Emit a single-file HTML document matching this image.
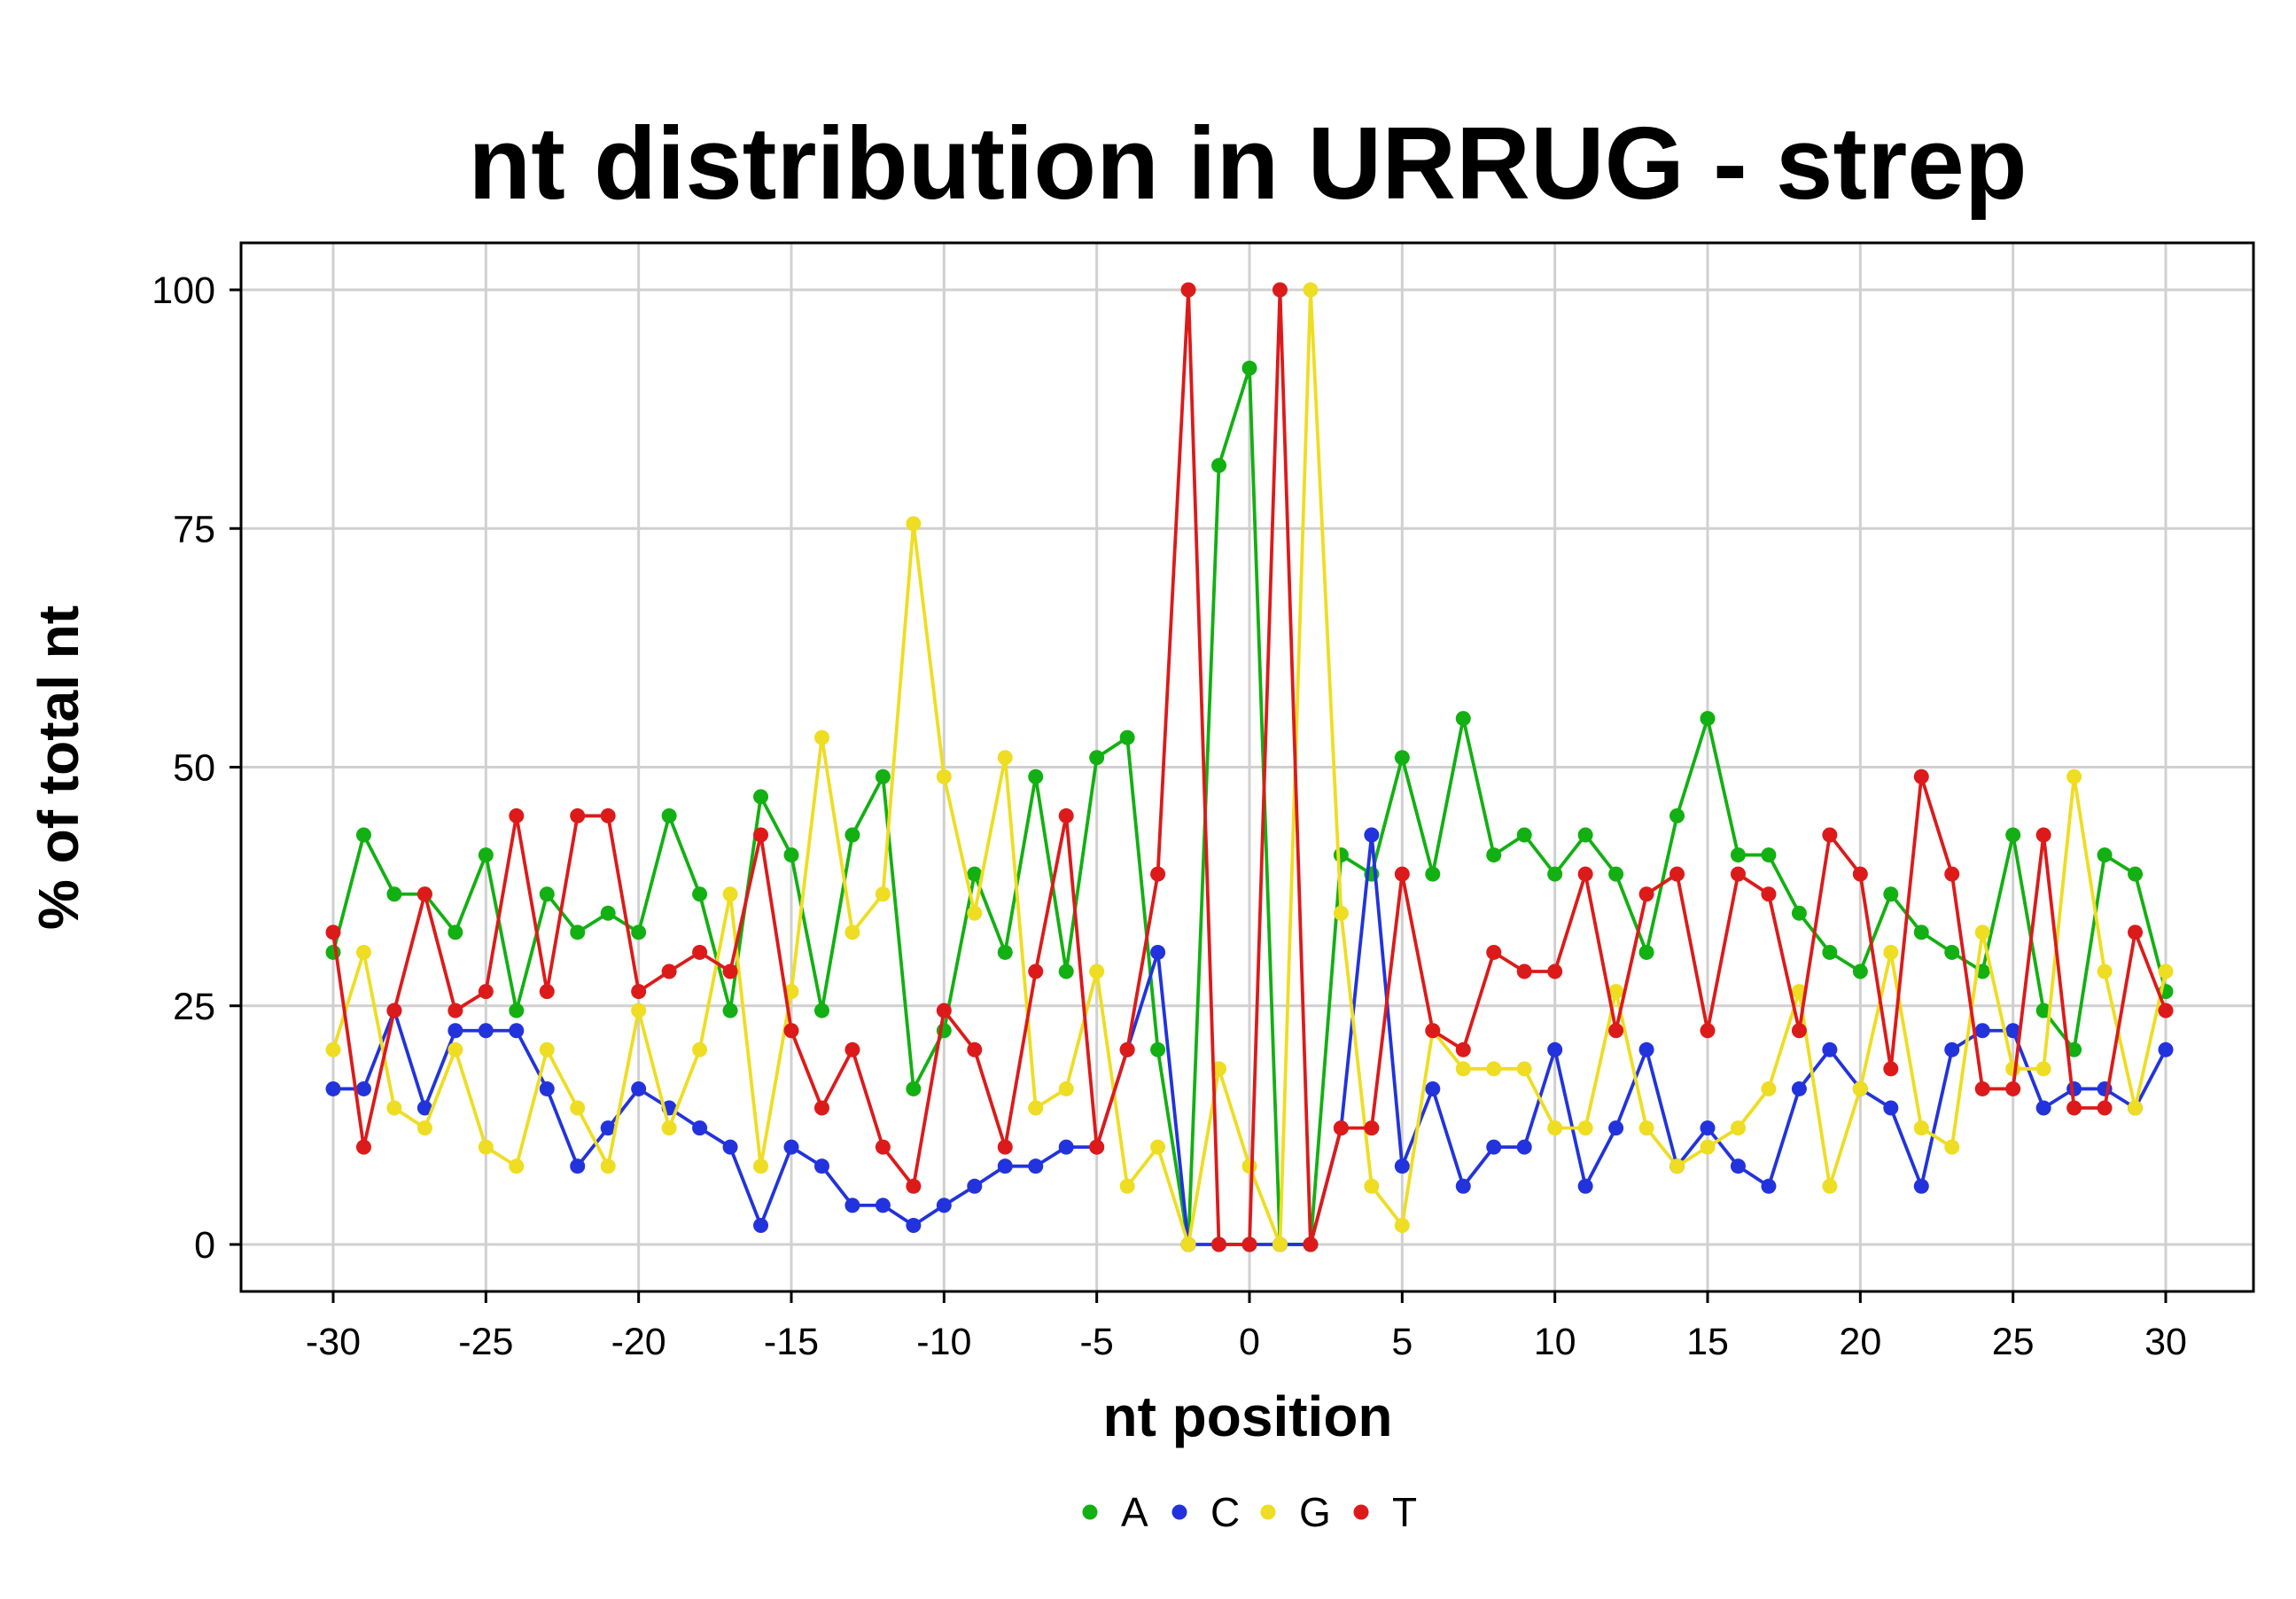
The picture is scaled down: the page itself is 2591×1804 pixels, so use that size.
<!DOCTYPE html>
<html><head><meta charset="utf-8"><style>
html,body{margin:0;padding:0;background:#fff;}
svg{display:block;font-family:"Liberation Sans",Arial,sans-serif;}
</style></head><body>
<svg id="chart" width="2591" height="1804" viewBox="0 0 2591 1804" xmlns="http://www.w3.org/2000/svg">
<rect width="2591" height="1804" fill="#fff"/>
<text x="1408" y="224" font-size="116" font-weight="bold" text-anchor="middle">nt distribution in URRUG - strep</text>
<g id="grid"></g>
<g id="series"></g>
<rect x="272" y="274" width="2271" height="1183" fill="none" stroke="#000" stroke-width="3"/>
<g id="axes"></g>
<text x="1408" y="1620" font-size="64" font-weight="bold" text-anchor="middle">nt position</text>
<text transform="translate(88,866) rotate(-90)" font-size="64" font-weight="bold" text-anchor="middle">% of total nt</text>
<g id="legend"></g>
</svg>
<script>
const positions = [];
for (let i = -30; i <= 30; i++) positions.push(i);
const seriesNames = ["A","C","G","T"];
const seriesColors = ["#12b012","#2233dd","#eedd22","#dd1a1a"];
const valuesA = [30.6,42.9,36.7,36.7,32.7,40.8,24.5,36.7,32.7,34.7,32.7,44.9,36.7,24.5,46.9,40.8,24.5,42.9,49.0,16.3,22.4,38.8,30.6,49.0,28.6,51.0,53.1,20.4,0,81.6,91.8,0,0,40.8,38.8,51.0,38.8,55.1,40.8,42.9,38.8,42.9,38.8,30.6,44.9,55.1,40.8,40.8,34.7,30.6,28.6,36.7,32.7,30.6,28.6,42.9,24.5,20.4,40.8,38.8,26.5];
const valuesC = [16.3,16.3,24.5,14.3,22.4,22.4,22.4,16.3,8.2,12.2,16.3,14.3,12.2,10.2,2.0,10.2,8.2,4.1,4.1,2.0,4.1,6.1,8.2,8.2,10.2,10.2,20.4,30.6,0,0,0,0,0,12.2,42.9,8.2,16.3,6.1,10.2,10.2,20.4,6.1,12.2,20.4,8.2,12.2,8.2,6.1,16.3,20.4,16.3,14.3,6.1,20.4,22.4,22.4,14.3,16.3,16.3,14.3,20.4];
const valuesG = [20.4,30.6,14.3,12.2,20.4,10.2,8.2,20.4,14.3,8.2,24.5,12.2,20.4,36.7,8.2,26.5,53.1,32.7,36.7,75.5,49.0,34.7,51.0,14.3,16.3,28.6,6.1,10.2,0,18.4,8.2,0,100,34.7,6.1,2.0,22.4,18.4,18.4,18.4,12.2,12.2,26.5,12.2,8.2,10.2,12.2,16.3,26.5,6.1,16.3,30.6,12.2,10.2,32.7,18.4,18.4,49.0,28.6,14.3,28.6];
const valuesT = [32.7,10.2,24.5,36.7,24.5,26.5,44.9,26.5,44.9,44.9,26.5,28.6,30.6,28.6,42.9,22.4,14.3,20.4,10.2,6.1,24.5,20.4,10.2,28.6,44.9,10.2,20.4,38.8,100,0,0,100,0,12.2,12.2,38.8,22.4,20.4,30.6,28.6,28.6,38.8,22.4,36.7,38.8,22.4,38.8,36.7,22.4,42.9,38.8,18.4,49.0,38.8,16.3,16.3,42.9,14.3,14.3,32.7,24.5];
const xTicks = [-30,-25,-20,-15,-10,-5,0,5,10,15,20,25,30];
const yTicks = [0,25,50,75,100];

const NS = "http://www.w3.org/2000/svg";
function xs(v){ return 376 + (v + 30) * (2444 - 376) / 60; }
function ys(v){ return 1404 - v * (1404 - 327) / 100; }
function mk(tag, attrs, parent){ const e = document.createElementNS(NS, tag); for (const k in attrs) e.setAttribute(k, attrs[k]); parent.appendChild(e); return e; }

const grid = document.getElementById('grid');
const axes = document.getElementById('axes');
xTicks.forEach(t => {
  const g = mk('line', {x1: xs(t), x2: xs(t), y1: 274, y2: 1457, stroke: '#d0d0d0', 'stroke-width': 3}, grid);
  
  
  const tk = mk('line', {x1: xs(t), x2: xs(t), y1: 1457, y2: 1470, stroke: '#000', 'stroke-width': 3}, axes);
  
  
  const lb = mk('text', {x: xs(t), y: 1528, 'font-size': 43, 'text-anchor': 'middle'}, axes);
  lb.textContent = t;
  
  
});
yTicks.forEach(t => {
  const g = mk('line', {x1: 272, x2: 2543, y1: ys(t), y2: ys(t), stroke: '#d0d0d0', 'stroke-width': 3}, grid);
  
  
  const tk = mk('line', {x1: 259, x2: 272, y1: ys(t), y2: ys(t), stroke: '#000', 'stroke-width': 3}, axes);
  
  
  const lb = mk('text', {x: 243, y: ys(t) + 15, 'font-size': 43, 'text-anchor': 'end'}, axes);
  lb.textContent = t;
  
  
});

const allValues = [valuesA, valuesC, valuesG, valuesT];
const sg = document.getElementById('series');
allValues.forEach((vals, si) => {
  const g = mk('g', {}, sg);
  
  
  const pts = vals.map((v, i) => xs(positions[i]) + ',' + ys(v)).join(' ');
  const pl = mk('polyline', {points: pts, fill: 'none', stroke: seriesColors[si], 'stroke-width': 3.8, 'stroke-linejoin': 'round'}, g);
  
  
  vals.forEach((v, i) => {
    const c = mk('circle', {cx: xs(positions[i]), cy: ys(v), r: 8.5, fill: seriesColors[si]}, g);
    
    
  });
});

const lg = document.getElementById('legend');
const dotX = [1230, 1331, 1431, 1536];
seriesNames.forEach((n, i) => {
  const c = mk('circle', {cx: dotX[i], cy: 1706, r: 8.5, fill: seriesColors[i]}, lg);
  
  
  const t = mk('text', {x: dotX[i] + 35, y: 1722, 'font-size': 46}, lg);
  t.textContent = n;
  
  
});
</script>
</body></html>
